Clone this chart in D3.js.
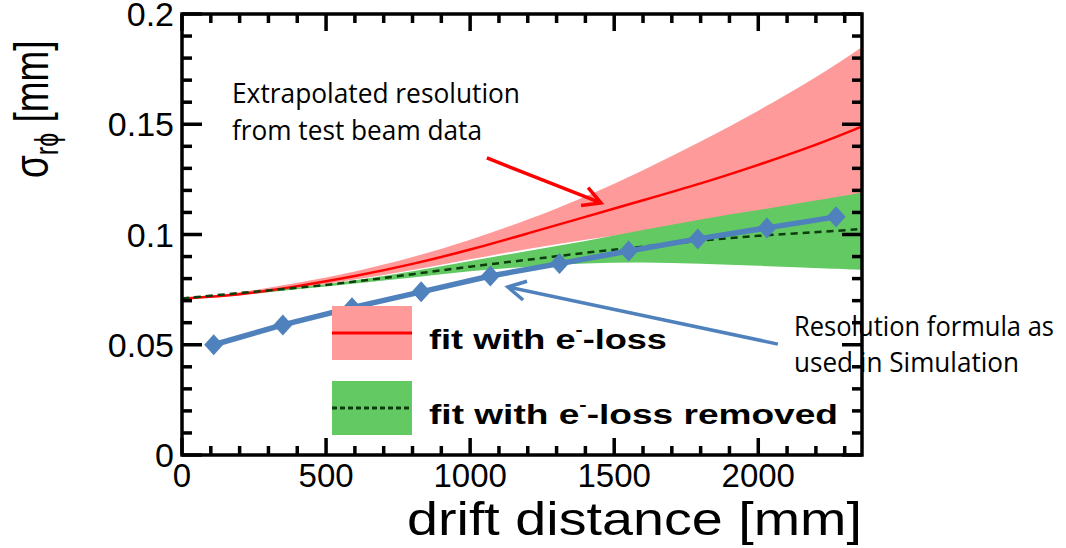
<!DOCTYPE html>
<html><head><meta charset="utf-8">
<script src="https://cdn.jsdelivr.net/npm/d3@7"></script>
<style>body{margin:0;background:#fff}</style>
</head><body>
<svg id="c" width="1066" height="548"></svg>
<script>
// ---- data ----
const gridX      = [0, 200, 400, 600, 800, 1000, 1200, 1400, 1600, 1800, 2000, 2200, 2360];
const redCenter  = [0.071,0.0725,0.0765,0.081,0.0865,0.093,0.1005,0.108,0.1155,0.123,0.1315,0.1405,0.149];
const redUpper   = [0.071,0.0735,0.078,0.083,0.0895,0.0975,0.1065,0.117,0.129,0.142,0.156,0.171,0.185];
const redLower   = [0.071,0.072,0.0755,0.0795,0.0838,0.0888,0.0935,0.0978,0.101,0.105,0.109,0.113,0.117];
const greenCenter= [0.071,0.0735,0.0758,0.0785,0.082,0.0855,0.0885,0.0918,0.0945,0.0973,0.0995,0.101,0.1025];
const greenUpper = [0.071,0.0728,0.0758,0.0792,0.0832,0.088,0.0925,0.097,0.102,0.107,0.111,0.1155,0.119];
const greenLower = [0.071,0.0725,0.0752,0.0778,0.0805,0.0835,0.0855,0.087,0.0875,0.0868,0.0858,0.0848,0.084];
const simX       = [110, 350, 590, 830, 1070, 1310, 1550, 1790, 2030, 2270];
const simY       = [0.050,0.059,0.0668,0.074,0.0812,0.0868,0.0925,0.098,0.103,0.108];
const xTicks     = [0, 500, 1000, 1500, 2000];
const xTickLabels= ["0","500","1000","1500","2000"];
const yTicks     = [0, 0.05, 0.1, 0.15, 0.2];
const yTickLabels= ["0","0.05","0.1","0.15","0.2"];
const legendLabels = ["fit with e", "fit with e"];
const legendTails  = ["-loss", "-loss removed"];
const redArrow  = {from:[1058,0.1347], to:[1454,0.1143]};
const blueArrow = {from:[2068,0.0503], to:[1131,0.0762]};

// ---- layout ----
const L=182, R=862, T=14, B=455;
const svg=d3.select("#c");
const x=d3.scaleLinear().domain([0,2360]).range([L,R]);
const y=d3.scaleLinear().domain([0,0.2]).range([B,T]);

svg.append("defs").append("clipPath").attr("id","clip")
  .append("rect").attr("x",L).attr("y",T).attr("width",R-L).attr("height",B-T);
const g=svg.append("g").attr("clip-path","url(#clip)");

const pts=(ys)=>gridX.map((d,i)=>[d,ys[i]]);
const band=(lo,hi)=>gridX.map((d,i)=>({x:d,lo:lo[i],hi:hi[i]}));
const area=d3.area().x(d=>x(d.x)).y0(d=>y(d.lo)).y1(d=>y(d.hi)).curve(d3.curveBasis);
const line=d3.line().x(d=>x(d[0])).y(d=>y(d[1])).curve(d3.curveBasis);

g.append("path").attr("d",area(band(redLower,redUpper))).attr("fill","#fe9a9a");
g.append("path").attr("d",area(band(greenLower,greenUpper))).attr("fill","#63c963");
g.append("path").attr("d",line(pts(redCenter))).attr("fill","none").attr("stroke","#ff0000").attr("stroke-width",2.5);
g.append("path").attr("d",line(pts(greenCenter))).attr("fill","none").attr("stroke","#0d3d0d").attr("stroke-width",2.5).attr("stroke-dasharray","7,5");

// simulation line
const simPts=simX.map((d,i)=>[d,simY[i]]);
svg.append("path").attr("d",d3.line().x(d=>x(d[0])).y(d=>y(d[1]))(simPts))
  .attr("fill","none").attr("stroke","#4f81bd").attr("stroke-width",5.5);
svg.selectAll("path.dia").data(simPts).join("path").attr("class","dia")
  .attr("d",d=>{const cx=x(d[0]),cy=y(d[1]);return `M${cx},${cy-10.5}L${cx+9.5},${cy}L${cx},${cy+10.5}L${cx-9.5},${cy}Z`;})
  .attr("fill","#4f81bd");

// ---- axes: ticks as filled rects positioned by the scales ----
const minorX=d3.range(0,2360,100), minorY=d3.range(0,21).map(i=>i/100);
const isMajX=d=>xTicks.includes(d), isMajY=d=>yTicks.some(v=>Math.abs(v-d)<1e-9);
const tw=3.5;
const tg=svg.append("g").attr("fill","#000");
tg.selectAll("rect.xb").data(minorX).join("rect").attr("class","xb")
  .attr("x",d=>x(d)-tw/2).attr("width",tw).attr("y",d=>B-(isMajX(d)?17:9)).attr("height",d=>isMajX(d)?17:9);
tg.selectAll("rect.xt").data(minorX).join("rect").attr("class","xt")
  .attr("x",d=>x(d)-tw/2).attr("width",tw).attr("y",T).attr("height",d=>isMajX(d)?17:9);
tg.selectAll("rect.yl").data(minorY).join("rect").attr("class","yl")
  .attr("y",d=>y(d)-tw/2).attr("height",tw).attr("x",L).attr("width",d=>isMajY(d)?20:10);
tg.selectAll("rect.yr").data(minorY).join("rect").attr("class","yr")
  .attr("y",d=>y(d)-tw/2).attr("height",tw).attr("x",d=>R-(isMajY(d)?20:10)).attr("width",d=>isMajY(d)?20:10);
svg.append("rect").attr("x",L).attr("y",T).attr("width",R-L).attr("height",B-T)
  .attr("fill","none").attr("stroke","#000").attr("stroke-width",3.5);

const tickFont="Liberation Sans, Arial, sans-serif";
svg.selectAll("text.xl").data(xTicks).join("text").attr("class","xl")
  .attr("x",d=>x(d)).attr("y",B+32).attr("text-anchor","middle")
  .attr("font-family",tickFont).attr("font-size",33).attr("fill","#000").text((d,i)=>xTickLabels[i]);
svg.selectAll("text.yl").data(yTicks).join("text").attr("class","yl")
  .attr("x",L-8).attr("y",d=>y(d)+12).attr("text-anchor","end")
  .attr("font-family",tickFont).attr("font-size",34).attr("fill","#000").text((d,i)=>yTickLabels[i]);

// axis titles
svg.append("text").attr("x",R).attr("y",535).attr("text-anchor","end")
  .attr("font-family",tickFont).attr("font-size",47).attr("fill","#000")
  .attr("textLength",455).attr("lengthAdjust","spacingAndGlyphs").text("drift distance [mm]");
const yt=svg.append("text").attr("transform","translate(48,178) scale(1.3,1) rotate(-90)")
  .attr("font-family",tickFont).attr("font-size",37).attr("fill","#000");
yt.append("tspan").text("σ");
yt.append("tspan").attr("font-size",25).attr("dy",8).text("rϕ");
yt.append("tspan").attr("dy",-8).text(" [mm]");

// ---- legend ----
const legY=[306,381];
const legCol=["#fe9a9a","#63c963"];
legY.forEach((ly,i)=>{
  svg.append("rect").attr("x",332).attr("y",ly).attr("width",80).attr("height",54).attr("fill",legCol[i]);
  const ln=svg.append("line").attr("x1",332).attr("x2",412).attr("y1",ly+27).attr("y2",ly+27).attr("stroke-width",3);
  if(i===0) ln.attr("stroke","#ff0000"); else ln.attr("stroke","#0d3d0d").attr("stroke-dasharray","5,3");
  const t=svg.append("text").attr("x",429).attr("y",ly+43)
    .attr("font-family",tickFont).attr("font-weight","bold").attr("font-size",27).attr("fill","#000")
    .attr("textLength",i===0?238:409).attr("lengthAdjust","spacingAndGlyphs");
  t.append("tspan").text(legendLabels[i]);
  t.append("tspan").attr("font-size",16).attr("dy",-14).text("-");
  t.append("tspan").attr("dy",14).text(legendTails[i]);
});

// ---- annotations ----
function ann(xp,yp,txt,w){svg.append("text").attr("x",xp).attr("y",yp)
  .attr("font-family","Open Sans, sans-serif").attr("font-size",27).attr("fill","#000")
  .attr("textLength",w).attr("lengthAdjust","spacingAndGlyphs").text(txt);}
ann(232,103,"Extrapolated resolution",288);
ann(232,140,"from test beam data",250);
ann(794,336,"Resolution formula as",260);
ann(794,372,"used in Simulation",225);

function arrow(a,color){
  const x1=x(a.from[0]),y1=y(a.from[1]),x2=x(a.to[0]),y2=y(a.to[1]);
  svg.append("line").attr("x1",x1).attr("y1",y1).attr("x2",x2).attr("y2",y2).attr("stroke",color).attr("stroke-width",3.5);
  const ang=Math.atan2(y2-y1,x2-x1), len=20, sp=0.5;
  const p1=[x2-len*Math.cos(ang-sp),y2-len*Math.sin(ang-sp)], p2=[x2-len*Math.cos(ang+sp),y2-len*Math.sin(ang+sp)];
  svg.append("path").attr("d",`M${p1}L${x2},${y2}L${p2}`).attr("fill","none").attr("stroke",color)
    .attr("stroke-width",3.5).attr("stroke-linejoin","miter");
}
arrow(redArrow,"#ff0000");
arrow(blueArrow,"#4f81bd");
</script>
</body></html>
